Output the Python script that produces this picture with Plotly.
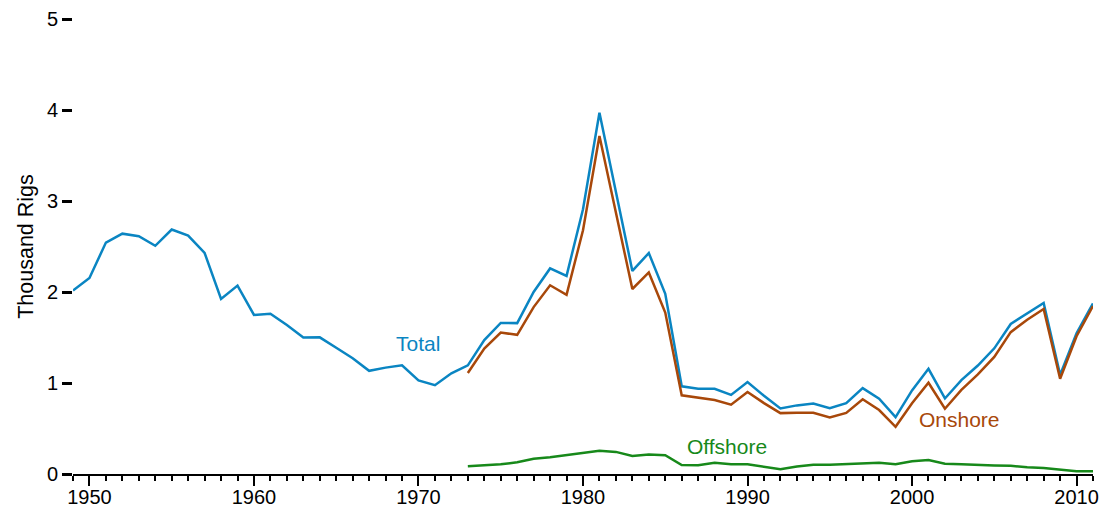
import plotly.graph_objects as go

years_total = list(range(1949, 2012))
total = [2.017, 2.154, 2.543, 2.641, 2.613, 2.508, 2.686, 2.620, 2.429, 1.923,
         2.071, 1.748, 1.761, 1.637, 1.501, 1.502, 1.387, 1.273, 1.134, 1.169,
         1.194, 1.028, 0.976, 1.107, 1.194, 1.472, 1.660, 1.658, 2.001, 2.259,
         2.177, 2.909, 3.970, 3.105, 2.232, 2.428, 1.980, 0.964, 0.936, 0.936,
         0.869, 1.010, 0.860, 0.721, 0.754, 0.775, 0.723, 0.779, 0.943, 0.827,
         0.625, 0.918, 1.156, 0.830, 1.032, 1.192, 1.381, 1.649, 1.768, 1.879,
         1.089, 1.546, 1.875]

years_split = list(range(1973, 2012))
onshore = [1.110, 1.378, 1.554, 1.529, 1.834, 2.074, 1.970, 2.678, 3.714, 2.862,
           2.033, 2.215, 1.774, 0.865, 0.841, 0.813, 0.762, 0.902, 0.779, 0.669,
           0.672, 0.673, 0.622, 0.671, 0.822, 0.703, 0.519, 0.778, 1.003, 0.717,
           0.924, 1.095, 1.287, 1.559, 1.695, 1.814, 1.046, 1.514, 1.846]
offshore = [0.084, 0.094, 0.106, 0.129, 0.167, 0.185, 0.207, 0.231, 0.256, 0.243,
            0.199, 0.213, 0.206, 0.099, 0.095, 0.123, 0.107, 0.108, 0.081, 0.052,
            0.082, 0.102, 0.101, 0.108, 0.121, 0.124, 0.106, 0.140, 0.153, 0.113,
            0.108, 0.097, 0.094, 0.090, 0.073, 0.065, 0.044, 0.031, 0.029]

series_names = ["Total", "Onshore", "Offshore"]
colors = ["#0A85C2", "#A8480A", "#17891A"]
label_pos = [(1969.95, 1.43), (2002.9, 0.6), (1988.75, 0.3)]

FONT = "Liberation Sans, Arial, sans-serif"

fig = go.Figure()
data = [(years_total, total), (years_split, onshore), (years_split, offshore)]
for (xs, ys), name, col in zip(data, series_names, colors):
    fig.add_trace(go.Scatter(x=xs, y=ys, mode="lines", name=name,
                             line=dict(color=col, width=2.5), cliponaxis=False))

for name, col, (lx, ly) in zip(series_names, colors, label_pos):
    fig.add_annotation(x=lx, y=ly, text=name, showarrow=False,
                       font=dict(family=FONT, size=21, color=col))

fig.update_layout(
    width=1104, height=511,
    margin=dict(l=73, r=11, t=19, b=37),
    plot_bgcolor="white", paper_bgcolor="white",
    showlegend=False,
    font=dict(family=FONT, size=20, color="black"),
    xaxis=dict(range=[1949, 2011], tick0=1950, dtick=10, automargin=False,
               showgrid=False, zeroline=False,
               showline=True, linecolor="black", linewidth=2,
               ticks="outside", ticklen=10, tickwidth=2, tickcolor="black",
               ticklabelstandoff=-6,
               minor=dict(dtick=1, tick0=1950, ticks="outside", ticklen=5,
                          tickwidth=2, tickcolor="black", showgrid=False),
               tickfont=dict(size=20)),
    yaxis=dict(range=[0, 5], tick0=0, dtick=1, automargin=False,
               showgrid=False, zeroline=False, showline=False,
               ticks="outside", ticklen=10, tickwidth=2.5, tickcolor="black",
               tickfont=dict(size=20),
               title=dict(text="Thousand Rigs", font=dict(size=21.5), standoff=7)),
)

fig.write_html("out.html", config={"displayModeBar": False},
               post_script="document.body.style.margin='0';document.body.style.overflow='hidden';")
